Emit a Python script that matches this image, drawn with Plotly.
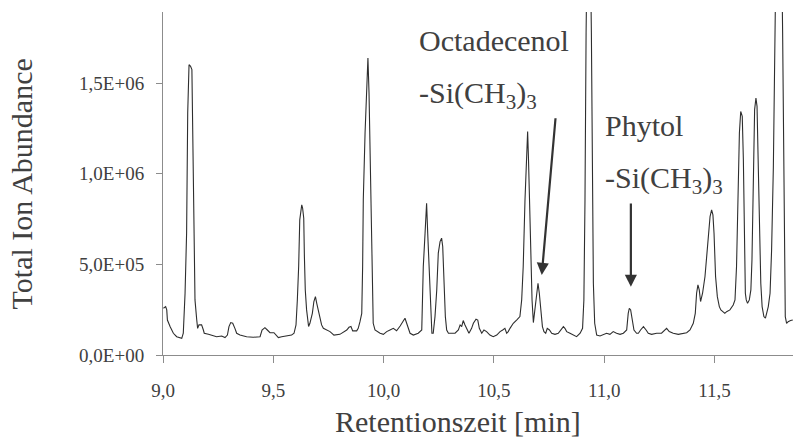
import plotly.graph_objects as go

# Retention time [min]
time_min = [
    9.002, 9.012, 9.017, 9.020, 9.032, 9.047, 9.062, 9.085, 9.092, 9.100,
    9.107, 9.112, 9.118, 9.125, 9.131, 9.134, 9.141, 9.145, 9.153, 9.157,
    9.163, 9.175, 9.183, 9.187, 9.206, 9.228, 9.243, 9.266, 9.281, 9.292,
    9.299, 9.307, 9.316, 9.326, 9.334, 9.349, 9.379, 9.409, 9.440, 9.449,
    9.462, 9.473, 9.485, 9.503, 9.515, 9.523, 9.538, 9.561, 9.583, 9.594,
    9.603, 9.609, 9.615, 9.620, 9.624, 9.629, 9.633, 9.638, 9.641, 9.645,
    9.651, 9.660, 9.666, 9.677, 9.684, 9.691, 9.697, 9.704, 9.712, 9.719,
    9.727, 9.742, 9.757, 9.775, 9.802, 9.833, 9.843, 9.852, 9.860, 9.878,
    9.885, 9.893, 9.901, 9.905, 9.908, 9.916, 9.923, 9.929, 9.934, 9.938,
    9.943, 9.947, 9.953, 9.961, 9.984, 9.999, 10.014, 10.029, 10.044, 10.059,
    10.075, 10.097, 10.120, 10.135, 10.157, 10.173, 10.176, 10.180, 10.188, 10.195,
    10.200, 10.207, 10.213, 10.219, 10.225, 10.233, 10.241, 10.248, 10.256, 10.263,
    10.268, 10.274, 10.280, 10.286, 10.294, 10.309, 10.324, 10.339, 10.347, 10.354,
    10.361, 10.369, 10.380, 10.387, 10.399, 10.407, 10.419, 10.427, 10.434, 10.445,
    10.455, 10.467, 10.482, 10.497, 10.513, 10.528, 10.540, 10.550, 10.558, 10.565,
    10.573, 10.588, 10.603, 10.618, 10.626, 10.633, 10.641, 10.648, 10.653, 10.657,
    10.663, 10.668, 10.673, 10.679, 10.686, 10.694, 10.700, 10.706, 10.712, 10.720,
    10.727, 10.735, 10.742, 10.752, 10.762, 10.777, 10.792, 10.804, 10.815, 10.822,
    10.830, 10.845, 10.860, 10.875, 10.891, 10.902, 10.908, 10.913, 10.918, 10.930,
    10.942, 10.946, 10.951, 10.957, 10.966, 10.981, 10.996, 11.011, 11.026, 11.041,
    11.056, 11.072, 11.087, 11.102, 11.109, 11.114, 11.120, 11.127, 11.135, 11.147,
    11.155, 11.165, 11.178, 11.190, 11.200, 11.215, 11.238, 11.260, 11.275, 11.283,
    11.295, 11.313, 11.336, 11.359, 11.374, 11.389, 11.404, 11.413, 11.419, 11.425,
    11.431, 11.437, 11.446, 11.457, 11.467, 11.473, 11.480, 11.487, 11.493, 11.498,
    11.505, 11.513, 11.522, 11.529, 11.540, 11.547, 11.555, 11.570, 11.585, 11.593,
    11.600, 11.606, 11.613, 11.619, 11.626, 11.631, 11.635, 11.640, 11.644, 11.650,
    11.658, 11.665, 11.670, 11.676, 11.682, 11.688, 11.693, 11.697, 11.703, 11.710,
    11.716, 11.724, 11.731, 11.737, 11.744, 11.752, 11.759, 11.767, 11.771, 11.776,
    11.792, 11.809, 11.813, 11.816, 11.821, 11.827, 11.834, 11.845, 11.855,
]

# Total ion abundance
abundance = [
    2.58e5, 2.67e5, 2.49e5, 1.93e5, 1.57e5, 1.20e5, 1.01e5, 0.92e5, 1.20e5, 3.41e5,
    6.72e5, 1.335e6, 1.602e6, 1.593e6, 1.575e6, 1.298e6, 5.62e5, 3.04e5, 1.93e5, 1.47e5,
    1.66e5, 1.66e5, 1.38e5, 1.20e5, 1.14e5, 1.05e5, 1.01e5, 1.05e5, 0.96e5, 1.10e5,
    1.57e5, 1.79e5, 1.75e5, 1.47e5, 1.20e5, 1.10e5, 1.01e5, 0.98e5, 1.01e5, 1.38e5,
    1.51e5, 1.38e5, 1.23e5, 1.23e5, 1.10e5, 0.96e5, 1.01e5, 1.05e5, 1.10e5, 1.20e5,
    1.66e5, 3.04e5, 4.88e5, 7.46e5, 8.01e5, 8.29e5, 8.10e5, 7.55e5, 5.43e5, 3.59e5,
    2.49e5, 1.57e5, 1.75e5, 2.30e5, 2.95e5, 3.22e5, 2.85e5, 2.49e5, 2.03e5, 1.66e5,
    1.47e5, 1.38e5, 1.29e5, 1.10e5, 1.14e5, 1.38e5, 1.53e5, 1.57e5, 1.33e5, 1.33e5,
    1.47e5, 1.84e5, 2.30e5, 4.88e5, 8.56e5, 1.225e6, 1.464e6, 1.639e6, 1.446e6, 1.133e6,
    8.20e5, 3.78e5, 1.75e5, 1.38e5, 1.20e5, 1.14e5, 1.29e5, 1.38e5, 1.47e5, 1.34e5,
    1.60e5, 2.03e5, 1.20e5, 1.10e5, 1.20e5, 1.38e5, 3.04e5, 4.88e5, 6.72e5, 8.38e5,
    6.72e5, 4.51e5, 2.12e5, 1.20e5, 1.20e5, 2.12e5, 3.59e5, 5.62e5, 6.26e5, 6.45e5,
    5.99e5, 3.96e5, 2.12e5, 1.38e5, 1.20e5, 1.20e5, 1.20e5, 1.38e5, 1.66e5, 1.57e5,
    1.90e5, 1.66e5, 1.38e5, 1.20e5, 1.47e5, 1.75e5, 1.97e5, 1.93e5, 1.47e5, 1.20e5,
    1.38e5, 1.29e5, 1.10e5, 1.01e5, 1.10e5, 1.29e5, 1.38e5, 1.47e5, 1.20e5, 1.29e5,
    1.47e5, 1.75e5, 1.93e5, 2.12e5, 3.04e5, 4.88e5, 8.56e5, 1.133e6, 1.234e6, 1.077e6,
    7.64e5, 4.88e5, 3.04e5, 1.79e5, 2.49e5, 3.41e5, 3.96e5, 3.41e5, 2.49e5, 1.57e5,
    1.29e5, 1.20e5, 1.47e5, 1.38e5, 1.20e5, 1.14e5, 1.20e5, 1.38e5, 1.57e5, 1.47e5,
    1.29e5, 1.20e5, 1.10e5, 1.01e5, 1.20e5, 1.47e5, 3.04e5, 8.56e5, 1.777e6, 3.0e6,
    1.777e6, 1.04e6, 3.96e5, 1.75e5, 1.10e5, 1.05e5, 1.14e5, 1.20e5, 1.14e5, 1.29e5,
    1.20e5, 1.14e5, 1.20e5, 1.38e5, 2.30e5, 2.58e5, 2.49e5, 1.93e5, 1.38e5, 1.20e5,
    1.20e5, 1.38e5, 1.57e5, 1.38e5, 1.20e5, 1.14e5, 1.20e5, 1.20e5, 1.38e5, 1.47e5,
    1.29e5, 1.20e5, 1.14e5, 1.20e5, 1.23e5, 1.38e5, 1.75e5, 2.30e5, 3.41e5, 3.87e5,
    3.59e5, 2.95e5, 3.41e5, 4.33e5, 5.62e5, 6.72e5, 7.64e5, 8.01e5, 7.73e5, 6.72e5,
    4.33e5, 3.22e5, 2.67e5, 2.49e5, 2.39e5, 2.30e5, 2.39e5, 2.49e5, 2.76e5, 3.04e5,
    4.88e5, 8.56e5, 1.225e6, 1.344e6, 1.317e6, 1.077e6, 6.72e5, 3.41e5, 3.04e5, 2.85e5,
    3.04e5, 3.59e5, 5.25e5, 9.48e5, 1.354e6, 1.418e6, 1.372e6, 1.133e6, 6.72e5, 3.96e5,
    2.67e5, 2.12e5, 2.03e5, 2.30e5, 2.67e5, 3.41e5, 5.80e5, 1.04e6, 1.409e6, 1.777e6,
    3.5e6, 1.777e6, 1.225e6, 4.88e5, 2.12e5, 1.75e5, 1.84e5, 1.90e5, 1.93e5,
]

x_tick_values = [9.0, 9.5, 10.0, 10.5, 11.0, 11.5]
x_tick_labels = ["9,0", "9,5", "10,0", "10,5", "11,0", "11,5"]
y_tick_values = [0, 5e5, 1e6, 1.5e6]
y_tick_labels = ["0,0E+00", "5,0E+05", "1,0E+06", "1,5E+06"]

x_range = [9.0, 11.856]
y_range = [0, 1.893e6]

# annotated compounds: (name, label x, line-1 y, line-2 y, arrow tip x, tip y, tail x, tail y)
compounds = [
    ("Octadecenol", 10.151, 1.735e6, 1.436e6, 10.717, 4.42e5, 10.780, 1.315e6),
    ("Phytol", 10.996, 1.265e6, 0.967e6, 11.121, 3.76e5, 11.121, 8.45e5),
]

FONT = "Liberation Serif, Times New Roman, serif"
TXT = "#404040"
AXC = "#8c8c8c"

fig = go.Figure()
fig.add_trace(go.Scatter(
    x=time_min, y=abundance, mode="lines",
    line=dict(color="#2e2e2e", width=1.1),
    hoverinfo="skip", showlegend=False,
))

annotations = []
for name, lx, ly1, ly2, tx, ty, ax_, ay_ in compounds:
    annotations.append(dict(x=lx, y=ly1, xref="x", yref="y", text=name,
                            showarrow=False, xanchor="left", yanchor="middle",
                            font=dict(family=FONT, size=30, color=TXT)))
    annotations.append(dict(x=lx, y=ly2, xref="x", yref="y",
                            text="-Si(CH<sub>3</sub>)<sub>3</sub>",
                            showarrow=False, xanchor="left", yanchor="middle",
                            font=dict(family=FONT, size=30, color=TXT)))
    annotations.append(dict(x=tx, y=ty, xref="x", yref="y", ax=ax_, ay=ay_,
                            axref="x", ayref="y", text="", showarrow=True,
                            arrowhead=2, arrowsize=1.1, arrowwidth=2.2,
                            arrowcolor="#333333"))

annotations.append(dict(x=0.468, y=-0.195, xref="paper", yref="paper",
                        text="Retentionszeit [min]", showarrow=False,
                        xanchor="center", yanchor="middle",
                        font=dict(family=FONT, size=30, color=TXT)))
annotations.append(dict(x=-0.224, y=0.5, xref="paper", yref="paper",
                        text="Total Ion Abundance", showarrow=False, textangle=-90,
                        xanchor="center", yanchor="middle",
                        font=dict(family=FONT, size=30, color=TXT)))

fig.update_layout(
    width=793, height=441,
    margin=dict(l=163, r=0, t=12, b=86),
    paper_bgcolor="white", plot_bgcolor="white",
    annotations=annotations,
    xaxis=dict(range=x_range, tickvals=x_tick_values, ticktext=x_tick_labels,
               showgrid=False, zeroline=False, showline=True, linecolor=AXC,
               linewidth=1, ticks="outside", ticklen=7, tickcolor=AXC,
               ticklabelstandoff=11,
               tickfont=dict(family=FONT, size=19, color=TXT)),
    yaxis=dict(range=y_range, tickvals=y_tick_values, ticktext=y_tick_labels,
               showgrid=False, zeroline=False, showline=True, linecolor=AXC,
               linewidth=1, ticks="outside", ticklen=6, tickcolor=AXC,
               ticklabelstandoff=8,
               tickfont=dict(family=FONT, size=19, color=TXT)),
)

fig.write_html("out.html")
